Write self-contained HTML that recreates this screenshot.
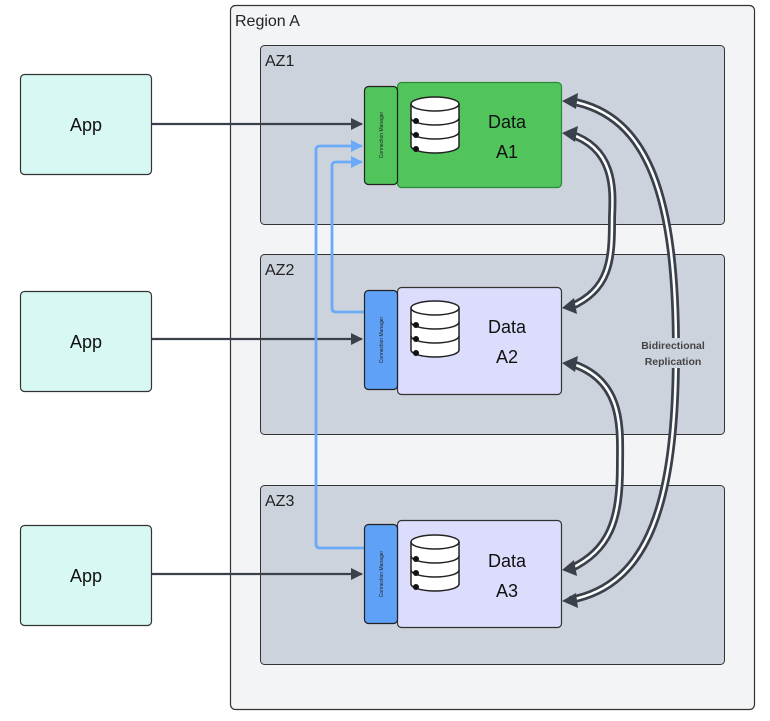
<!DOCTYPE html>
<html><head><meta charset="utf-8"><style>
body{margin:0;background:#fff;width:770px;height:716px;overflow:hidden;font-family:"Liberation Sans",sans-serif}
</style></head><body>
<svg width="770" height="716" xmlns="http://www.w3.org/2000/svg" font-family="Liberation Sans, sans-serif">
<defs>
<marker id="ad" markerWidth="12" markerHeight="12" refX="11" refY="6" orient="auto" markerUnits="userSpaceOnUse"><path d="M0,0 L12,6 L0,12 z" fill="#3a414b"/></marker>
<marker id="ab" markerWidth="12" markerHeight="12" refX="11" refY="6" orient="auto" markerUnits="userSpaceOnUse"><path d="M0,0 L12,6 L0,12 z" fill="#6aaaf7"/></marker>
<g id="db">
<path d="M-24,-14 v42 a24,7 0 0 0 48,0 v-42" fill="#fff" stroke="#222" stroke-width="1.5"/>
<ellipse cx="0" cy="-14" rx="24" ry="7" fill="#fff" stroke="#222" stroke-width="1.5"/>
<path d="M-24,0 a24,7 0 0 0 48,0 M-24,14 a24,7 0 0 0 48,0" fill="none" stroke="#222" stroke-width="1.5"/>
<circle cx="-19" cy="3" r="3" fill="#111"/><circle cx="-19" cy="17" r="3" fill="#111"/><circle cx="-19" cy="31" r="3" fill="#111"/>
</g>
</defs>
<rect x="230.5" y="5.5" width="524" height="704" rx="5" fill="#f3f4f6" stroke="#333" stroke-width="1.2"/>
<text x="235" y="26" font-size="16" fill="#222">Region A</text>
<rect x="260.5" y="45.5" width="464" height="179" rx="4" fill="#cdd3dc" stroke="#333"/>
<rect x="260.5" y="254.5" width="464" height="180" rx="4" fill="#cdd3dc" stroke="#333"/>
<rect x="260.5" y="485.5" width="464" height="179" rx="4" fill="#cdd3dc" stroke="#333"/>
<text x="265" y="66" font-size="16" fill="#222">AZ1</text>
<text x="265" y="275" font-size="16" fill="#222">AZ2</text>
<text x="265" y="506" font-size="16" fill="#222">AZ3</text>

<g fill="#d8f8f3" stroke="#333" stroke-width="1.2">
<rect x="20.5" y="74.5" width="131" height="100" rx="4"/>
<rect x="20.5" y="291.5" width="131" height="100" rx="4"/>
<rect x="20.5" y="525.5" width="131" height="100" rx="4"/>
</g>
<g font-size="18" fill="#111" text-anchor="middle">
<text x="86" y="131">App</text><text x="86" y="348">App</text><text x="86" y="582">App</text>
</g>
<g stroke="#3a414b" stroke-width="2.2" marker-end="url(#ad)">
<line x1="152" y1="124" x2="362" y2="124"/>
<line x1="152" y1="339" x2="362" y2="339"/>
<line x1="152" y1="574" x2="362" y2="574"/>
</g>
<g stroke="#6aaaf7" stroke-width="2.8" fill="none" marker-end="url(#ab)">
<path d="M364,548 H320 Q316,548 316,544 V150 Q316,146 320,146 H362"/>
<path d="M364,312 H336 Q332,312 332,308 V166 Q332,162 336,162 H362"/>
</g>

<rect x="397.5" y="82.5" width="164" height="105" rx="4" fill="#52c45c" stroke="#2a8a35" stroke-width="1.2"/>
<rect x="364.5" y="86.5" width="33" height="98" rx="4" fill="#52c45c" stroke="#222" stroke-width="1.2"/>
<rect x="397.5" y="287.5" width="164" height="107" rx="4" fill="#dcdcfc" stroke="#333" stroke-width="1.2"/>
<rect x="364.5" y="290.5" width="33" height="99" rx="4" fill="#5ea1f6" stroke="#222" stroke-width="1.2"/>
<rect x="397.5" y="520.5" width="164" height="107" rx="4" fill="#dcdcfc" stroke="#333" stroke-width="1.2"/>
<rect x="364.5" y="524.5" width="33" height="99" rx="4" fill="#5ea1f6" stroke="#222" stroke-width="1.2"/>
<g font-size="5" fill="#222" text-anchor="middle">
<text transform="translate(383,135) rotate(-90)">Connection Manager</text>
<text transform="translate(383,340) rotate(-90)">Connection Manager</text>
<text transform="translate(383,574) rotate(-90)">Connection Manager</text>
</g>
<use href="#db" x="435" y="118"/>
<use href="#db" x="435" y="322"/>
<use href="#db" x="435" y="556"/>
<g font-size="18" fill="#111" text-anchor="middle">
<text x="507" y="128">Data</text><text x="507" y="158">A1</text>
<text x="507" y="333">Data</text><text x="507" y="363">A2</text>
<text x="507" y="567">Data</text><text x="507" y="597">A3</text>
</g>

<g fill="none">
<g stroke="#3a414b" stroke-width="8">
<path d="M570,134 C620,150 612,200 612,220 C612,260 610,290 570,307"/>
<path d="M570,363 C625,380 620,430 620,466 C620,520 610,550 570,569"/>
<path d="M570,101 C650,115 676,200 676,350 C676,500 650,585 570,600"/>
</g>
<g stroke="#fff" stroke-width="2.5">
<path d="M570,134 C620,150 612,200 612,220 C612,260 610,290 570,307"/>
<path d="M570,363 C625,380 620,430 620,466 C620,520 610,550 570,569"/>
<path d="M570,101 C650,115 676,200 676,350 C676,500 650,585 570,600"/>
</g>
</g>
<g fill="#3a414b">
<path d="M562,101 L578,93 L576,109 z"/>
<path d="M562,133 L578,126 L575,142 z"/>
<path d="M562,308 L574,298 L577,314 z"/>
<path d="M562,363 L578,356 L575,372 z"/>
<path d="M562,570 L574,560 L577,576 z"/>
<path d="M562,601 L576,593 L578,608 z"/>
</g>
<rect x="638" y="338" width="72" height="30" fill="#cdd3dc"/>
<g font-size="10.5" font-weight="bold" fill="#444" text-anchor="middle">
<text x="673" y="349">Bidirectional</text><text x="673" y="365">Replication</text>
</g>
</svg>
</body></html>
